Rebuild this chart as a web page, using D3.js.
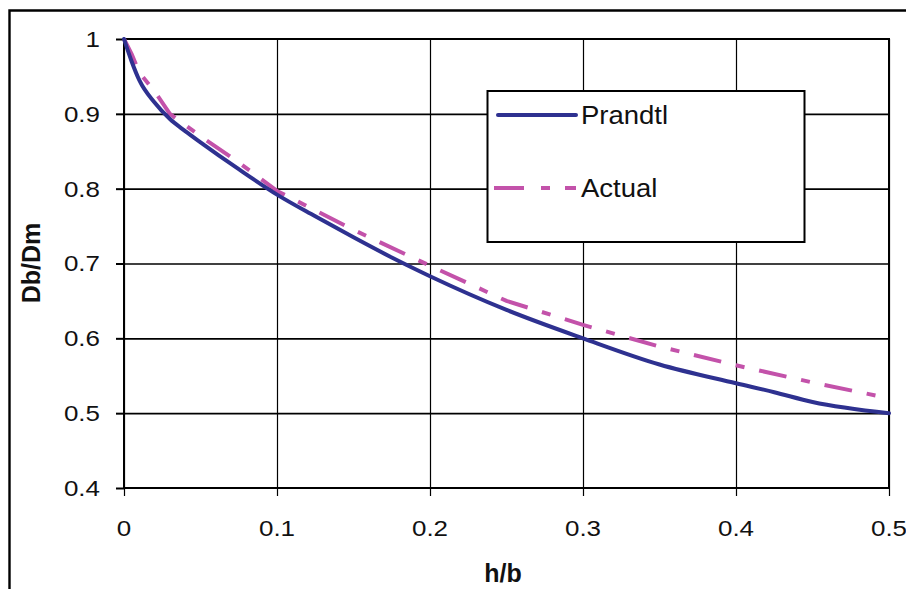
<!DOCTYPE html>
<html>
<head>
<meta charset="utf-8">
<script src="https://cdn.jsdelivr.net/npm/d3@7"></script>
<style>
  html, body { margin: 0; padding: 0; background: #fff; }
  svg { display: block; font-family: "Liberation Sans", Arial, sans-serif; }
</style>
</head>
<body>
<svg id="chart" width="906" height="589"></svg>
<script>
// ---- data ----
const prandtlX = [0, 0.005, 0.01, 0.02, 0.03, 0.04, 0.05, 0.075, 0.1, 0.125, 0.15, 0.175, 0.2, 0.25, 0.3, 0.35, 0.4, 0.425, 0.45, 0.5];
const prandtlY = [1.0, 0.97, 0.945, 0.915, 0.893, 0.877, 0.862, 0.826, 0.792, 0.763, 0.735, 0.708, 0.683, 0.638, 0.6, 0.565, 0.54, 0.528, 0.515, 0.5];
const actualX = [0, 0.005, 0.01, 0.02, 0.03, 0.05, 0.075, 0.1, 0.15, 0.2, 0.25, 0.3, 0.35, 0.4, 0.45, 0.5];
const actualY = [1.0, 0.98, 0.955, 0.93, 0.9, 0.87, 0.835, 0.797, 0.745, 0.697, 0.65, 0.618, 0.589, 0.564, 0.541, 0.52];
const xTicks = [0, 0.1, 0.2, 0.3, 0.4, 0.5];
const xTickLabels = ["0", "0.1", "0.2", "0.3", "0.4", "0.5"];
const yTicks = [0.4, 0.5, 0.6, 0.7, 0.8, 0.9, 1.0];
const yTickLabels = ["0.4", "0.5", "0.6", "0.7", "0.8", "0.9", "1"];
const seriesNames = ["Prandtl", "Actual"];
const xTitle = "h/b";
const yTitle = "Db/Dm";

// ---- layout ----
const svg = d3.select("#chart");
const L = 124, R = 889, T = 39, B = 488;
const x = d3.scaleLinear().domain([0, 0.5]).range([L, R]);
const y = d3.scaleLinear().domain([0.4, 1.0]).range([B, T]);
const colPrandtl = "#2e3190";
const colActual = "#c352aa";

svg.append("rect").attr("width", 906).attr("height", 589).attr("fill", "#fff");

// outer frame
svg.append("path").attr("d", "M9.5,589 V10.5 H906").attr("fill", "none")
  .attr("stroke", "#000").attr("stroke-width", 2.4);

// horizontal gridlines
svg.append("g").attr("transform", `translate(${L},0)`)
  .call(d3.axisLeft(y).tickValues(yTicks.filter(v => v > 0.4 && v < 1)).tickSize(-(R - L)).tickFormat(""))
  .call(g => g.select(".domain").remove())
  .call(g => g.selectAll("line").attr("stroke", "#000").attr("stroke-width", 1.7));

// vertical gridlines (extend below as tick marks)
svg.append("g").attr("transform", `translate(0,${B + 8})`)
  .call(d3.axisBottom(x).tickValues(xTicks).tickSize(-(B + 8 - T)).tickFormat(""))
  .call(g => g.select(".domain").remove())
  .call(g => g.selectAll("line").attr("stroke", "#000").attr("stroke-width", 1.2));

// y tick marks
svg.append("g").attr("transform", `translate(${L},0)`)
  .call(d3.axisLeft(y).tickValues(yTicks).tickSize(8).tickFormat(""))
  .call(g => g.select(".domain").remove())
  .call(g => g.selectAll("line").attr("stroke", "#000").attr("stroke-width", 2));

// plot border
svg.append("rect").attr("x", L).attr("y", T).attr("width", R - L).attr("height", B - T)
  .attr("fill", "none").attr("stroke", "#000").attr("stroke-width", 2);

// tick labels
svg.append("g").selectAll("text").data(yTicks).join("text")
  .attr("transform", d => `translate(100,${y(d)}) scale(1.18,1)`)
  .attr("text-anchor", "end").attr("dy", "0.36em")
  .attr("font-size", 22).attr("fill", "#111")
  .text((d, i) => yTickLabels[i]);

svg.append("g").selectAll("text").data(xTicks).join("text")
  .attr("transform", d => `translate(${x(d)},528) scale(1.18,1)`)
  .attr("text-anchor", "middle").attr("dy", "0.36em")
  .attr("font-size", 22).attr("fill", "#111")
  .text((d, i) => xTickLabels[i]);

// axis titles
svg.append("text").attr("x", 503).attr("y", 582).attr("text-anchor", "middle")
  .attr("font-size", 25).attr("font-weight", "bold").attr("fill", "#111").text(xTitle);
svg.append("text").attr("transform", "translate(40,263) rotate(-90)").attr("text-anchor", "middle")
  .attr("font-size", 25).attr("font-weight", "bold").attr("fill", "#111").text(yTitle);

// lines
const line = d3.line().x(d => x(d[0])).y(d => y(d[1]));
const pData = prandtlX.map((v, i) => [v, prandtlY[i]]);
const aData = actualX.map((v, i) => [v, actualY[i]]);

svg.append("path").datum(aData).attr("d", line)
  .attr("fill", "none").attr("stroke", colActual).attr("stroke-width", 4)
  .attr("stroke-dasharray", "28,15,9,15");
svg.append("path").datum(pData).attr("d", line.curve(d3.curveMonotoneX))
  .attr("fill", "none").attr("stroke", colPrandtl).attr("stroke-width", 4)
  .attr("stroke-linejoin", "round").attr("stroke-linecap", "round");

// legend
const lg = svg.append("g");
lg.append("rect").attr("x", 487.5).attr("y", 91).attr("width", 317).attr("height", 151)
  .attr("fill", "#fff").attr("stroke", "#000").attr("stroke-width", 2);
lg.append("line").attr("x1", 498).attr("x2", 576).attr("y1", 115).attr("y2", 115)
  .attr("stroke", colPrandtl).attr("stroke-width", 4).attr("stroke-linecap", "round");
lg.append("line").attr("x1", 494).attr("x2", 576).attr("y1", 188).attr("y2", 188)
  .attr("stroke", colActual).attr("stroke-width", 4).attr("stroke-dasharray", "30,17,9,15");
lg.selectAll("text.lab").data(seriesNames).join("text").attr("class", "lab")
  .attr("transform", (d, i) => `translate(581,${i === 0 ? 115 : 188}) scale(1.1,1)`)
  .attr("dy", "0.36em").attr("font-size", 25).attr("fill", "#111")
  .text(d => d);
</script>
</body>
</html>
